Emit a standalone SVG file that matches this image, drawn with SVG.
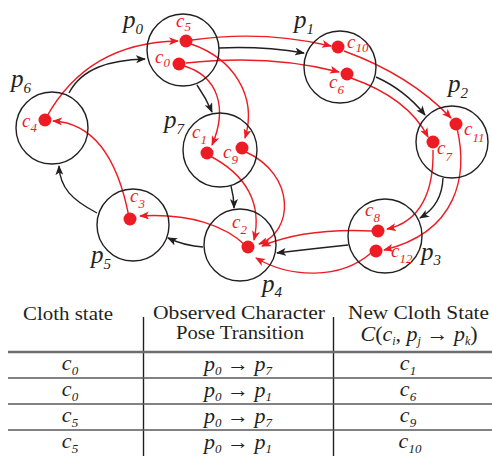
<svg xmlns="http://www.w3.org/2000/svg" width="492" height="456" viewBox="0 0 492 456">
<defs>
<style>
.node{fill:none;stroke:#231f20;stroke-width:1.4}
.dot{fill:#ed1c24}
.bl{fill:none;stroke:#231f20;stroke-width:1.4;marker-end:url(#ab)}
.rd{fill:none;stroke:#ed1c24;stroke-width:1.4;marker-end:url(#ar)}
.pl{font-family:"Liberation Serif","Times New Roman",Times,serif;font-style:italic;font-size:25px;fill:#231f20}
.cl{font-family:"Liberation Serif","Times New Roman",Times,serif;font-style:italic;font-size:19px;fill:#ed1c24}
.hd{font-family:"Liberation Serif","Times New Roman",Times,serif;font-size:19.5px;fill:#231f20;text-anchor:middle}
.mt{font-family:"Liberation Serif","Times New Roman",Times,serif;font-style:italic;font-size:22px;fill:#231f20;text-anchor:middle}
.ar{font-style:normal}
.hl{stroke:#58595b;stroke-width:1.5}
.vl{stroke:#231f20;stroke-width:1.4}
</style>
<marker id="ab" markerUnits="userSpaceOnUse" markerWidth="10" markerHeight="8" refX="9" refY="4" orient="auto">
<path d="M0,0 L10,4 L0,8 L2.5,4 z" fill="#231f20"/>
</marker>
<marker id="ar" markerUnits="userSpaceOnUse" markerWidth="10" markerHeight="8" refX="9" refY="4" orient="auto">
<path d="M0,0 L10,4 L0,8 L2.5,4 z" fill="#ed1c24"/>
</marker>
</defs>

<g id="connectors">
<path class="bl" d="M69,93 C82,68 110,60 145,59"/>
<path class="bl" d="M219,48 Q262,46 304,53"/>
<path class="bl" d="M376,77 Q405,90 425,115"/>
<path class="bl" d="M443,178 Q442,205 420,218"/>
<path class="bl" d="M348,245 Q310,249 277,253"/>
<path class="bl" d="M203,247 Q185,246 168,238"/>
<path class="bl" d="M97,213 C72,200 60,188 59,166"/>
<path class="bl" d="M197,85 Q206,98 212,112"/>
<path class="bl" d="M231,186 Q234,197 234,208"/>

<path class="rd" d="M46,118 C75,65 120,42 178,41"/>
<path class="rd" d="M192,40 Q262,30 331,46"/>
<path class="rd" d="M186,63 Q270,54 339,72"/>
<path class="rd" d="M191,44 C232,58 258,95 245,138"/>
<path class="rd" d="M184,66 C218,76 228,108 212,145"/>
<path class="rd" d="M344,51 Q410,75 451,118"/>
<path class="rd" d="M351,78 Q408,98 428,137"/>
<path class="rd" d="M433,150 C434,192 420,222 387,229"/>
<path class="rd" d="M457,128 C468,175 458,232 384,250"/>
<path class="rd" d="M372,231 Q305,228 262,246"/>
<path class="rd" d="M371,253 C340,280 290,278 256,258"/>
<path class="rd" d="M208,155 C248,175 262,205 254,240"/>
<path class="rd" d="M246,152 C296,175 294,232 259,244"/>
<path class="rd" d="M246,246 C226,226 190,213 140,216"/>
<path class="rd" d="M129,217 C118,160 95,123 53,121"/>
</g>

<g id="p0">
<circle class="node" cx="183" cy="50" r="36"/>
<text class="pl" x="123" y="28">p<tspan font-size="15" dy="6">0</tspan></text>
<circle class="dot" cx="186" cy="41" r="6.5"/>
<text class="cl" x="176" y="27">c<tspan font-size="13" dy="4">5</tspan></text>
<circle class="dot" cx="179" cy="64" r="6.5"/>
<text class="cl" x="155" y="63">c<tspan font-size="13" dy="4">0</tspan></text>
</g>

<g id="p1">
<circle class="node" cx="340" cy="67" r="36"/>
<text class="pl" x="294" y="28">p<tspan font-size="15" dy="6">1</tspan></text>
<circle class="dot" cx="338" cy="47" r="6.5"/>
<text class="cl" x="347" y="48">c<tspan font-size="13" dy="4">10</tspan></text>
<circle class="dot" cx="347" cy="74" r="6.5"/>
<text class="cl" x="329" y="88">c<tspan font-size="13" dy="6">6</tspan></text>
</g>

<g id="p2">
<circle class="node" cx="452" cy="142" r="36"/>
<text class="pl" x="448" y="92">p<tspan font-size="15" dy="6">2</tspan></text>
<circle class="dot" cx="456" cy="124" r="6.5"/>
<text class="cl" x="464" y="135">c<tspan font-size="13" dy="7">11</tspan></text>
<circle class="dot" cx="433" cy="142" r="6.5"/>
<text class="cl" x="437" y="154">c<tspan font-size="13" dy="7">7</tspan></text>
</g>

<g id="p3">
<circle class="node" cx="385" cy="236" r="37"/>
<text class="pl" x="421" y="260">p<tspan font-size="15" dy="5">3</tspan></text>
<circle class="dot" cx="378" cy="231" r="6.5"/>
<text class="cl" x="365" y="216">c<tspan font-size="13" dy="6">8</tspan></text>
<circle class="dot" cx="376" cy="251" r="6.5"/>
<text class="cl" x="391" y="257">c<tspan font-size="13" dy="6">12</tspan></text>
</g>

<g id="p4">
<circle class="node" cx="240" cy="245" r="36"/>
<text class="pl" x="262" y="292">p<tspan font-size="15" dy="5">4</tspan></text>
<circle class="dot" cx="248" cy="247" r="6.5"/>
<text class="cl" x="232" y="228">c<tspan font-size="13" dy="6">2</tspan></text>
</g>

<g id="p5">
<circle class="node" cx="133" cy="225" r="36"/>
<text class="pl" x="91" y="263">p<tspan font-size="15" dy="6">5</tspan></text>
<circle class="dot" cx="130" cy="219" r="6.5"/>
<text class="cl" x="130" y="202">c<tspan font-size="13" dy="6">3</tspan></text>
</g>

<g id="p6">
<circle class="node" cx="52" cy="128" r="36"/>
<text class="pl" x="11" y="87">p<tspan font-size="15" dy="6">6</tspan></text>
<circle class="dot" cx="45" cy="120" r="6.5"/>
<text class="cl" x="22" y="127">c<tspan font-size="13" dy="5">4</tspan></text>
</g>

<g id="p7">
<circle class="node" cx="220" cy="150" r="37"/>
<text class="pl" x="164" y="128">p<tspan font-size="15" dy="6">7</tspan></text>
<circle class="dot" cx="207" cy="153" r="6.5"/>
<text class="cl" x="192" y="138">c<tspan font-size="13" dy="6">1</tspan></text>
<circle class="dot" cx="242" cy="148" r="6.5"/>
<text class="cl" x="223" y="158">c<tspan font-size="13" dy="6">9</tspan></text>
</g>

<g id="table">
<line class="vl" x1="143.5" y1="317" x2="143.5" y2="456"/>
<line class="vl" x1="333.5" y1="317" x2="333.5" y2="456"/>
<line x1="8" y1="352" x2="492" y2="352" stroke="#6d6e71" stroke-width="2.5"/>
<line class="hl" x1="8" y1="378" x2="492" y2="378"/>
<line class="hl" x1="8" y1="404" x2="492" y2="404"/>
<line class="hl" x1="8" y1="430" x2="492" y2="430"/>

<text class="hd" x="68" y="320" textLength="90" lengthAdjust="spacingAndGlyphs">Cloth state</text>
<text class="hd" x="239" y="319" textLength="172" lengthAdjust="spacingAndGlyphs">Observed Character</text>
<text class="hd" x="240" y="339" textLength="128" lengthAdjust="spacingAndGlyphs">Pose Transition</text>
<text class="hd" x="418.5" y="319" textLength="141" lengthAdjust="spacingAndGlyphs">New Cloth State</text>
<text class="mt" x="419" y="341" font-size="20.5">C<tspan class="ar">(</tspan>c<tspan font-size="12" dy="4">i</tspan><tspan class="ar" dy="-4">, </tspan>p<tspan font-size="12" dy="4">j</tspan><tspan class="ar" dy="-4"> → </tspan>p<tspan font-size="12" dy="4">k</tspan><tspan class="ar" dy="-4">)</tspan></text>

<text class="mt" x="70" y="370">c<tspan font-size="13" dy="5">0</tspan></text>
<text class="mt" x="70" y="396">c<tspan font-size="13" dy="5">0</tspan></text>
<text class="mt" x="70" y="422">c<tspan font-size="13" dy="5">5</tspan></text>
<text class="mt" x="70" y="448">c<tspan font-size="13" dy="5">5</tspan></text>

<text class="mt" x="238" y="371">p<tspan font-size="13" dy="4">0</tspan><tspan class="ar" dy="-4"> → </tspan>p<tspan font-size="13" dy="4">7</tspan></text>
<text class="mt" x="238" y="397">p<tspan font-size="13" dy="4">0</tspan><tspan class="ar" dy="-4"> → </tspan>p<tspan font-size="13" dy="4">1</tspan></text>
<text class="mt" x="238" y="423">p<tspan font-size="13" dy="4">0</tspan><tspan class="ar" dy="-4"> → </tspan>p<tspan font-size="13" dy="4">7</tspan></text>
<text class="mt" x="238" y="449">p<tspan font-size="13" dy="4">0</tspan><tspan class="ar" dy="-4"> → </tspan>p<tspan font-size="13" dy="4">1</tspan></text>

<text class="mt" x="408" y="370">c<tspan font-size="13" dy="5">1</tspan></text>
<text class="mt" x="408" y="396">c<tspan font-size="13" dy="5">6</tspan></text>
<text class="mt" x="408" y="422">c<tspan font-size="13" dy="5">9</tspan></text>
<text class="mt" x="410" y="448">c<tspan font-size="13" dy="5">10</tspan></text>
</g>
</svg>
